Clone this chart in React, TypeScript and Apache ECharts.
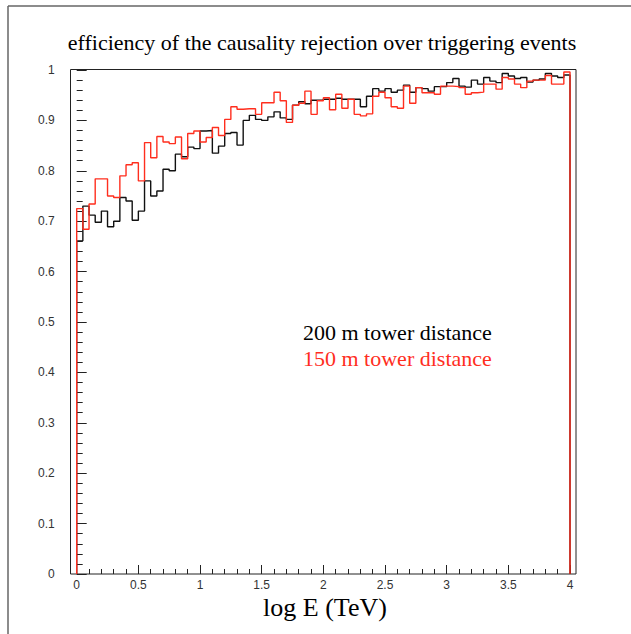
import React, { useEffect, useRef } from "react";
import * as echarts from "echarts";

// bin width of the histograms (log E, TeV)
const BIN_WIDTH = 0.05;
const X_TICKS = ["0", "0.5", "1", "1.5", "2", "2.5", "3", "3.5", "4"];

// efficiency per bin, 200 m tower distance (black)
const black200 = [
  0.661, 0.730, 0.712, 0.698, 0.720, 0.689, 0.700, 0.747, 0.740, 0.702,
  0.720, 0.780, 0.750, 0.760, 0.803, 0.800, 0.833, 0.828, 0.847, 0.844,
  0.879, 0.880, 0.835, 0.849, 0.874, 0.876, 0.851, 0.900, 0.910, 0.902,
  0.900, 0.907, 0.917, 0.905, 0.902, 0.930, 0.937, 0.933, 0.940, 0.940,
  0.942, 0.942, 0.944, 0.942, 0.942, 0.942, 0.927, 0.948, 0.963, 0.958,
  0.963, 0.956, 0.960, 0.970, 0.956, 0.965, 0.963, 0.958, 0.967, 0.967,
  0.975, 0.983, 0.968, 0.966, 0.980, 0.972, 0.985, 0.978, 0.975, 0.993,
  0.988, 0.983, 0.985, 0.976, 0.980, 0.982, 0.993, 0.988, 0.985, 0.990,
];

// efficiency per bin, 150 m tower distance (red)
const red150 = [
  0.725, 0.684, 0.734, 0.784, 0.784, 0.750, 0.747, 0.790, 0.812, 0.816,
  0.780, 0.856, 0.826, 0.868, 0.857, 0.854, 0.867, 0.824, 0.874, 0.879,
  0.857, 0.866, 0.886, 0.870, 0.902, 0.927, 0.922, 0.923, 0.923, 0.912,
  0.935, 0.935, 0.956, 0.939, 0.896, 0.930, 0.934, 0.958, 0.912, 0.939,
  0.945, 0.921, 0.952, 0.924, 0.942, 0.912, 0.909, 0.913, 0.948, 0.956,
  0.945, 0.927, 0.924, 0.968, 0.934, 0.965, 0.955, 0.955, 0.952, 0.968,
  0.968, 0.967, 0.965, 0.952, 0.955, 0.956, 0.972, 0.972, 0.962, 0.985,
  0.982, 0.972, 0.965, 0.978, 0.980, 0.980, 0.989, 0.972, 0.972, 0.996,
];

const RED = "#ff2e1e";

function histPoints(values: number[]): number[][] {
  const pts: number[][] = [[0, 0]];
  values.forEach((v, i) => pts.push([+(i * BIN_WIDTH).toFixed(4), v]));
  const end = +(values.length * BIN_WIDTH).toFixed(4);
  pts.push([end, values[values.length - 1]]);
  pts.push([end, 0]);
  return pts;
}

export default function App() {
  const ref = useRef<HTMLDivElement>(null);
  useEffect(() => {
    if (!ref.current) return;
    const chart = echarts.init(ref.current, null, { renderer: "svg" });
    const serif = "Liberation Serif";
    const sans = "Liberation Sans";
    chart.setOption({
      animation: false,
      backgroundColor: "#ffffff",
      grid: { left: 76.7, right: 61, top: 70, bottom: 60, containLabel: false },
      xAxis: {
        type: "value",
        min: 0,
        max: 4,
        interval: 0.5,
        axisLine: { show: false },
        splitLine: { show: false },
        axisTick: { show: true, inside: true, length: 9, lineStyle: { color: "#222", width: 1 } },
        minorTick: { show: true, splitNumber: 5, length: 5, lineStyle: { color: "#222", width: 1 } },
        axisLabel: {
          margin: 5,
          fontFamily: sans,
          fontSize: 12,
          color: "#333",
          formatter: (v: number) => {
            const idx = Math.round(v / 0.5);
            return X_TICKS[idx] ?? "";
          },
        },
      },
      yAxis: {
        type: "value",
        min: 0,
        max: 1,
        interval: 0.1,
        offset: 6,
        axisLine: { show: false },
        splitLine: { show: false },
        axisTick: { show: true, inside: true, length: 10, lineStyle: { color: "#222", width: 1 } },
        minorTick: { show: true, splitNumber: 5, length: 6, lineStyle: { color: "#222", width: 1 } },
        axisLabel: { margin: 16, fontFamily: sans, fontSize: 12, color: "#333" },
      },
      series: [
        {
          name: "200 m tower distance",
          type: "line",
          step: "end",
          showSymbol: false,
          symbol: "none",
          data: histPoints(black200),
          lineStyle: { color: "#111", width: 1.4 },
          z: 3,
        },
        {
          name: "150 m tower distance",
          type: "line",
          step: "end",
          showSymbol: false,
          symbol: "none",
          data: histPoints(red150),
          lineStyle: { color: RED, width: 1.4 },
          z: 4,
        },
      ],
      graphic: [
        {
          type: "line",
          shape: { x1: 8, y1: 6, x2: 631, y2: 6 },
          style: { stroke: "#666", lineWidth: 1.5 },
          silent: true,
        },
        {
          type: "line",
          shape: { x1: 8, y1: 6, x2: 8, y2: 634 },
          style: { stroke: "#666", lineWidth: 1.5 },
          silent: true,
        },
        {
          type: "rect",
          shape: { x: 70.5, y: 69.5, width: 505.5, height: 504.5 },
          style: { fill: "none", stroke: "#222", lineWidth: 1 },
          silent: true,
          z: 1,
        },
        {
          type: "text",
          x: 322,
          y: 42,
          style: {
            text: "efficiency of the causality rejection over triggering events",
            fontFamily: serif,
            fontSize: 22,
            fill: "#000",
            textAlign: "center",
            textVerticalAlign: "middle",
          },
        },
        {
          type: "text",
          x: 325,
          y: 607,
          style: {
            text: "log E (TeV)",
            fontFamily: serif,
            fontSize: 26,
            fill: "#000",
            textAlign: "center",
            textVerticalAlign: "middle",
          },
        },
        {
          type: "text",
          x: 303,
          y: 332,
          style: {
            text: "200 m tower distance",
            fontFamily: serif,
            fontSize: 22,
            fill: "#000",
            textAlign: "left",
            textVerticalAlign: "middle",
          },
        },
        {
          type: "text",
          x: 303,
          y: 358,
          style: {
            text: "150 m tower distance",
            fontFamily: serif,
            fontSize: 22,
            fill: RED,
            textAlign: "left",
            textVerticalAlign: "middle",
          },
        },
      ],
    });
    return () => chart.dispose();
  }, []);
  return (
    <div
      ref={ref}
      style={{ position: "fixed", left: 0, top: 0, width: 631, height: 634, background: "#fff" }}
    />
  );
}
